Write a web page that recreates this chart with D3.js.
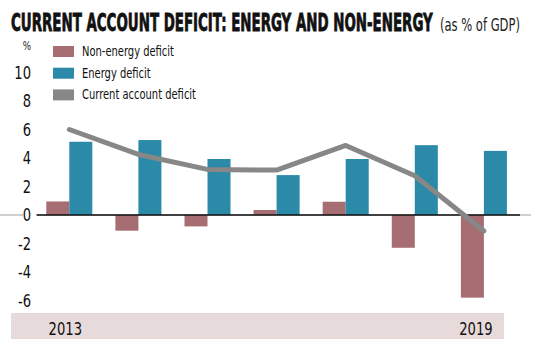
<!DOCTYPE html>
<html>
<head>
<meta charset="utf-8">
<script src="https://cdn.jsdelivr.net/npm/d3@7/dist/d3.min.js"></script>
<style>
  html, body { margin: 0; padding: 0; background: #fff; }
  svg { display: block; }
  text { font-family: "Liberation Sans Narrow", "DejaVu Sans Condensed", "Liberation Sans", sans-serif; }
</style>
</head>
<body>
<svg id="chart" width="538" height="354"></svg>
<script>
const years = ["2013", "2014", "2015", "2016", "2017", "2018", "2019"];
const nonEnergy = [0.95, -1.1, -0.8, 0.35, 0.93, -2.3, -5.8];
const energy = [5.14, 5.26, 3.93, 2.8, 3.93, 4.9, 4.5];
const currentAccount = [6.0, 4.25, 3.2, 3.15, 4.88, 2.75, -1.12];
const yTicks = [-6, -4, -2, 0, 2, 4, 6, 8, 10];
const xLabels = ["2013", "2019"];
const seriesNames = ["Non-energy deficit", "Energy deficit", "Current account deficit"];

const colNon = "#a66d72";
const colEnergy = "#2a8aa7";
const colLine = "#878787";

const svg = d3.select("#chart");

// place text at (x,y) with horizontal squeeze factor sx
function place(sel, xf, yf, sx) {
  sel.attr("transform", (d, i) => `translate(${xf(d, i)},${yf(d, i)}) scale(${sx},1)`);
}
function factorFor(str, size, weight, target) {
  const t = svg.append("text").attr("font-size", size).attr("font-weight", weight || "normal").text(str);
  const w = t.node().getComputedTextLength();
  t.remove();
  return target / w;
}

const x = d3.scaleBand().domain(years).range([34.75, 518.45]).paddingInner(0.334).paddingOuter(0.167);
const y = d3.scaleLinear().domain([-6, 10]).range([300.5, 72.5]);
const bw = x.bandwidth();

// Title
const titleStr = "CURRENT ACCOUNT DEFICIT: ENERGY AND NON-ENERGY";
const sxTitle = factorFor(titleStr, 25, "bold", 422);
svg.append("text")
  .attr("font-size", 25).attr("font-weight", "bold")
  .attr("fill", "#111").attr("stroke", "#111").attr("stroke-width", 0.8)
  .attr("transform", `translate(11,31) scale(${sxTitle},1)`)
  .text(titleStr);
const subStr = "(as % of GDP)";
const sxSub = factorFor(subStr, 17, "normal", 80);
svg.append("text")
  .attr("font-size", 17).attr("fill", "#222")
  .attr("transform", `translate(440,31) scale(${sxSub},1)`)
  .text(subStr);

// tick label squeeze
const sxTick = factorFor("10", 18, "normal", 16.7);

// % unit
svg.append("text").attr("text-anchor", "end")
  .attr("font-size", 12).attr("fill", "#222")
  .attr("transform", `translate(31,50) scale(${sxTick},1)`)
  .text("%");

// Bottom band
svg.append("rect").attr("x", 11).attr("y", 313).attr("width", 493).attr("height", 26).attr("fill", "#e7dada");
svg.append("g").selectAll("text").data(xLabels).join("text")
  .attr("text-anchor", "middle")
  .attr("font-size", 18).attr("fill", "#111")
  .text(d => d)
  .call(place, (d, i) => x(d) + bw / 2 - (i === 0 ? 4 : 8), () => 335, sxTick);

// Zero gray line
svg.append("line").attr("x1", 0).attr("x2", 531).attr("y1", y(0)).attr("y2", y(0))
  .attr("stroke", "#cfcfcf").attr("stroke-width", 2);

// Y ticks
const yg = svg.append("g");
yg.append("rect").attr("x", 23).attr("y", y(0) - 3).attr("width", 13).attr("height", 6).attr("fill", "#fff");
yg.selectAll("text").data(yTicks).join("text")
  .attr("dy", "0.36em")
  .attr("text-anchor", "end")
  .attr("font-size", 18).attr("fill", "#111")
  .text(d => d < 0 ? "-" + Math.abs(d) : d)
  .call(place, () => 31, d => y(d), sxTick);

// Bars
const g = svg.append("g");
g.selectAll("rect.non").data(years).join("rect").attr("class", "non")
  .attr("x", d => x(d))
  .attr("width", bw / 2)
  .attr("y", (d, i) => y(Math.max(0, nonEnergy[i])))
  .attr("height", (d, i) => Math.abs(y(nonEnergy[i]) - y(0)))
  .attr("fill", colNon);
g.selectAll("rect.en").data(years).join("rect").attr("class", "en")
  .attr("x", d => x(d) + bw / 2)
  .attr("width", bw / 2)
  .attr("y", (d, i) => y(Math.max(0, energy[i])))
  .attr("height", (d, i) => Math.abs(y(energy[i]) - y(0)))
  .attr("fill", colEnergy);

// Zero black line
svg.append("line").attr("x1", x.range()[0] + 2).attr("x2", x.range()[1] + 1.5)
  .attr("y1", y(0)).attr("y2", y(0))
  .attr("stroke", "#111").attr("stroke-width", 1.5);

// Current account line
const line = d3.line()
  .x((d, i) => x(years[i]) + bw / 2)
  .y(d => y(d));
svg.append("path").datum(currentAccount)
  .attr("d", line)
  .attr("fill", "none")
  .attr("stroke", colLine)
  .attr("stroke-width", 5)
  .attr("stroke-linejoin", "round")
  .attr("stroke-linecap", "round");

// Legend
const legColors = [colNon, colEnergy, colLine];
const sxLeg = factorFor(seriesNames[0], 14, "normal", 92);
const leg = svg.append("g");
seriesNames.forEach((name, i) => {
  const base = 56 + i * 21.7;
  leg.append("rect").attr("x", 53).attr("y", base - 10).attr("width", 21).attr("height", 11).attr("fill", legColors[i]);
  leg.append("text")
    .attr("font-size", 14).attr("fill", "#111")
    .attr("transform", `translate(82,${base}) scale(${sxLeg},1)`)
    .text(name);
});
</script>
</body>
</html>
